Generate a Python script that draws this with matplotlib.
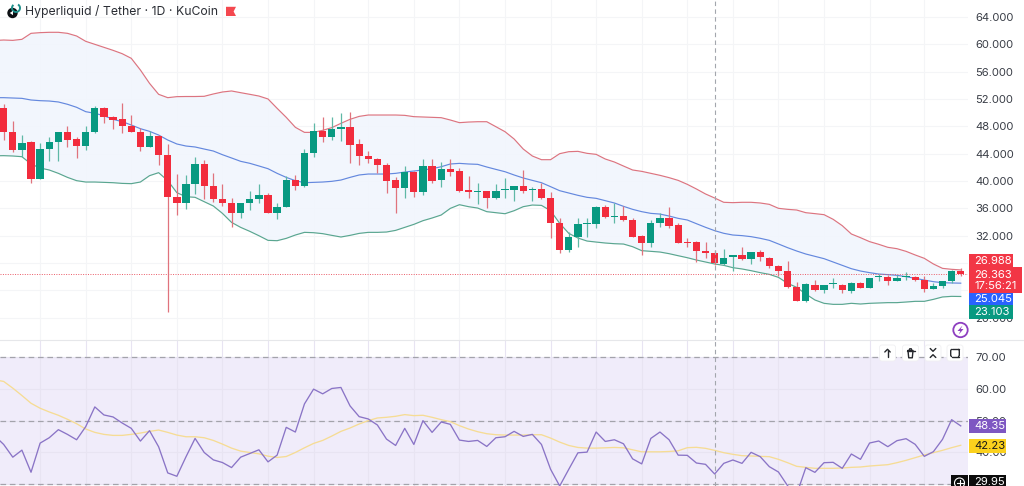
import numpy as np
import matplotlib
matplotlib.use("Agg")
import matplotlib.pyplot as plt
from matplotlib.patches import Rectangle, Polygon, Circle, FancyBboxPatch, Arc

plt.rcParams['font.family'] = ['Inter', 'DejaVu Sans']

TITLE = "Hyperliquid / Tether · 1D · KuCoin"

OPEN = [50.74,47.13,44.55,45.67,40.35,44.74,45.67,47.13,46.16,45.13,
        47.13,50.74,49.33,49.09,48.06,47.13,44.98,46.60,43.86,37.67,
        36.74,39.57,42.45,39.33,37.42,36.74,35.38,36.84,37.37,37.91,
        35.32,36.15,40.15,39.28,44.16,47.38,46.50,47.62,47.96,45.38,
        43.67,43.23,42.40,40.15,38.98,41.37,38.45,42.15,40.11,41.77,
        41.42,38.64,38.40,38.49,37.47,38.64,38.64,39.28,38.74,38.79,
        37.52,33.86,29.86,31.81,33.71,33.71,36.15,34.74,34.89,34.30,
        31.96,30.93,33.81,34.59,33.52,31.13,31.03,29.76,29.52,27.86,
        28.83,29.18,28.64,29.62,28.79,27.61,26.78,24.49,22.49,24.83,
        24.00,24.88,24.83,23.95,25.13,24.39,25.91,26.00,25.37,25.91,
        26.00,25.47,24.25,24.59,25.37,26.83]
CLOSE = [47.13,44.55,45.57,40.30,44.74,45.67,47.13,46.06,45.13,47.13,
         50.74,49.33,48.99,48.06,47.23,44.98,46.60,43.86,37.67,36.74,
         39.57,42.45,39.33,37.37,36.74,35.38,36.84,37.37,37.91,35.32,
         36.25,40.15,39.28,44.16,47.28,46.50,47.62,47.96,45.28,43.62,
         43.23,42.40,40.06,38.94,41.37,38.45,42.20,40.01,41.72,41.37,
         38.59,38.35,38.49,37.47,38.49,38.74,39.28,38.59,38.84,37.47,
         33.81,29.91,31.81,33.71,33.81,36.20,34.69,34.89,34.30,31.86,
         30.93,33.81,34.59,33.42,30.98,30.98,29.76,29.52,27.96,28.79,
         29.13,28.54,29.57,28.83,27.52,26.83,24.54,22.49,24.88,24.00,
         24.83,24.98,24.00,25.13,24.39,25.76,26.00,25.37,25.81,26.00,
         25.47,24.20,24.64,25.37,26.78,26.36]
HIGH = [51.23,48.79,46.74,45.91,45.52,46.50,47.23,48.06,46.40,48.06,
        51.04,50.79,49.52,51.38,49.67,47.72,47.28,46.74,45.38,40.98,
        40.89,43.57,43.08,41.13,39.52,37.47,36.84,38.59,39.57,38.30,
        36.74,40.74,40.84,44.64,48.55,49.33,49.33,49.91,50.06,46.11,
        44.45,43.42,42.59,40.64,42.20,41.47,43.28,43.18,42.79,43.18,
        41.86,40.74,39.76,38.54,39.57,40.40,39.28,41.62,39.08,39.76,
        38.45,34.54,32.59,34.59,34.54,36.30,36.49,36.84,36.40,34.54,
        32.05,34.30,35.37,36.15,33.91,31.71,31.27,31.13,29.91,30.01,
        29.13,30.30,29.66,29.91,28.93,27.71,28.35,25.27,25.03,25.52,
        24.83,25.76,24.98,25.22,25.22,25.86,26.39,26.25,26.25,26.69,
        26.15,26.10,25.03,25.37,26.98,27.32]
LOW = [46.01,44.30,43.57,39.67,40.35,42.98,42.89,44.94,43.42,44.55,
       46.99,48.45,47.62,47.08,47.13,44.45,44.94,42.35,20.88,35.03,
       35.91,38.11,37.37,36.98,36.35,33.32,34.59,35.76,36.74,35.27,
       34.44,36.15,38.69,39.08,43.57,45.77,46.01,45.86,42.69,42.30,
       42.69,41.13,38.20,35.37,37.47,37.62,38.01,39.67,39.18,40.74,
       38.45,37.57,36.64,36.01,37.42,37.47,37.13,38.30,37.13,37.32,
       31.71,29.42,29.66,30.40,31.86,33.08,34.54,33.81,34.10,31.76,
       29.23,30.40,33.32,33.18,30.88,30.40,28.20,28.69,27.71,27.71,
       26.88,28.44,27.86,28.35,27.22,26.10,24.30,22.49,22.30,23.91,
       23.56,24.39,23.66,23.66,24.30,24.39,25.42,24.78,25.37,25.52,
       25.37,23.81,24.25,24.39,25.03,26.15]

# Bollinger bands and RSI start one day before the first visible candle
UPPER = [60.58,60.65,60.60,60.75,61.63,61.73,61.78,61.78,61.63,61.24,60.46,
         60.02,59.58,59.14,58.65,57.97,56.26,54.31,52.70,52.21,52.36,
         52.38,52.38,52.41,52.75,53.04,53.19,52.94,52.70,52.45,52.02,
         50.65,49.33,47.87,47.13,47.13,47.43,47.82,48.45,
         49.04,49.47,49.67,49.67,49.67,49.67,49.62,49.43,49.38,49.33,
         49.28,48.94,48.55,48.64,48.69,48.69,47.96,47.23,46.16,44.69,
         43.67,43.13,43.13,44.01,44.30,44.35,44.06,43.91,43.23,42.79,
         42.20,41.62,41.42,41.13,40.84,40.50,40.10,
         39.52,38.84,38.11,37.52,36.89,36.84,36.89,36.89,36.79,36.59,
         36.01,35.86,35.76,35.37,35.23,35.08,34.40,33.47,32.25,31.71,
         31.13,30.74,30.30,30.10,29.71,29.18,28.69,27.86,27.22,27.08,26.99]
BASIS = [52.21,52.21,52.16,52.11,51.87,51.77,51.72,51.58,51.24,50.80,50.16,
         49.92,49.57,49.04,48.70,48.21,47.67,47.28,46.74,46.01,45.43,
         45.13,44.99,44.69,44.40,43.86,43.38,42.89,42.60,42.21,41.81,
         41.13,40.54,40.06,39.76,39.81,39.86,39.96,40.15,
         40.54,40.89,41.03,41.03,41.03,41.13,41.32,41.47,41.62,41.81,
         42.10,42.50,42.59,42.50,42.45,42.06,41.71,41.37,40.89,40.45,
         40.10,39.76,39.18,38.59,38.25,37.91,37.62,37.47,37.13,36.79,
         36.30,35.86,35.52,35.27,35.17,34.88,34.54,
         34.30,33.76,33.23,32.74,32.35,32.10,32.01,31.86,31.62,31.32,
         30.79,30.25,29.76,29.32,28.98,28.64,28.15,27.66,27.17,26.83,
         26.59,26.39,26.30,26.20,26.00,25.76,25.51,25.27,25.12,25.08,25.05]
LOWER = [43.70,43.72,43.67,43.57,42.50,41.91,41.62,41.13,40.54,40.06,39.86,
         39.86,39.81,39.76,39.66,39.62,39.86,40.79,41.23,40.06,38.30,
         37.71,37.62,36.98,36.35,35.27,33.95,33.22,32.64,32.00,31.32,
         31.27,31.61,32.10,32.49,32.44,32.30,32.05,31.81,
         32.05,32.34,32.49,32.49,32.54,32.78,33.22,33.66,34.20,34.59,
         35.03,36.00,36.54,36.25,36.05,35.52,35.37,35.22,35.66,36.25,
         36.49,36.44,35.66,33.81,32.34,31.66,31.22,31.07,30.93,30.83,
         30.78,30.39,29.81,29.71,29.61,29.37,29.07,
         28.78,28.44,28.15,27.86,27.66,27.32,27.13,26.88,26.59,26.34,
         25.90,25.03,24.44,23.46,22.59,22.10,21.95,21.95,22.10,22.00,
         22.10,22.15,22.20,22.20,22.29,22.39,22.39,22.68,23.03,23.12,23.10]
RSI = [45.24,42.49,38.47,40.69,33.71,42.91,44.61,47.15,45.66,43.97,
       48.10,54.34,51.80,51.17,49.26,47.57,43.55,46.83,41.75,33.50,
       32.44,38.58,44.40,39.95,37.62,36.78,35.19,38.47,39.63,40.80,
       36.99,39.11,47.89,46.41,55.29,59.95,58.47,60.16,60.48,
       54.66,51.27,50.53,48.63,44.18,42.17,47.57,42.49,50.00,46.30,
       49.58,48.84,43.87,43.44,43.76,41.86,44.61,44.92,46.62,45.03,
       45.67,42.49,34.66,29.37,34.66,39.85,40.06,46.41,43.44,43.97,
       42.70,37.94,36.35,44.40,46.41,43.97,39.11,
       39.05,36.63,36.21,33.16,36.52,37.58,36.52,40.00,38.63,35.47,
       33.79,29.47,26.73,35.15,33.68,36.73,36.84,34.95,39.47,37.79,
       42.94,43.58,41.79,43.68,44.31,42.52,38.73,40.21,44.10,50.31,48.35]
RSI_MA = [62.91,62.38,60.27,57.94,55.50,53.92,52.75,51.70,50.43,49.05,
          47.36,46.30,45.67,45.35,45.35,45.67,46.09,46.62,47.04,46.30,
          45.45,44.92,44.92,44.61,43.76,42.60,41.33,40.38,39.95,39.53,
          38.79,38.37,38.68,39.95,41.43,42.81,43.76,45.14,46.62,
          47.68,48.95,50.00,50.85,51.06,51.38,51.91,51.59,51.70,51.06,
          50.32,49.69,48.42,47.36,46.51,45.88,45.56,45.45,45.45,45.45,
          45.56,45.56,44.50,43.23,42.17,41.54,41.33,41.33,41.43,41.54,
          41.43,40.80,40.16,40.16,40.16,40.27,40.48,
          41.47,41.58,41.26,40.63,39.89,39.37,38.94,38.84,38.73,38.63,
          37.79,36.73,35.58,35.26,34.95,34.95,34.95,35.05,35.26,35.37,
          35.68,35.89,36.10,36.73,37.47,38.31,39.16,39.89,40.63,41.47,42.23]

PRICE_TICKS = [64,60,56,52,48,44,40,36,32,28,24,20]
RSI_TICKS = [70,60,50,40,30]
TIME_GRID = [4,9,14,19,24,29,34,40,45,50,55,60,65,70,75,80,85,90,95,101]
CROSSHAIR_DAY = 78
LAST_PRICE = 26.363

UP, DOWN = '#089981', '#f22c3d'
GRID = '#f4f5f7'
W, H = 1024, 486
fig = plt.figure(figsize=(W/100, H/100), dpi=100, facecolor='white')

def axes_px(x0, y0, x1, y1, **kw):
    return fig.add_axes([x0/W, 1-y1/H, (x1-x0)/W, (y1-y0)/H], **kw)

PX_PER_DAY = 9.115
X0 = 3.67
def xlim_for(width):
    return (-X0/PX_PER_DAY, (width-X0)/PX_PER_DAY)

ax = axes_px(0, 0, 968, 340)
rs = axes_px(0, 341, 968, 486)
for a in (ax, rs):
    a.set_xlim(*xlim_for(968))
    a.set_xticks(TIME_GRID)
    a.tick_params(axis='x', length=0, labelbottom=False)
    a.tick_params(axis='y', length=0, pad=5.2, labelsize=8.1, labelcolor='#3a3e47',
                  right=False, left=False, labelright=True, labelleft=False)
    a.yaxis.set_ticks_position('right')
    for s in a.spines.values():
        s.set_visible(False)
    a.grid(True, color=GRID, lw=0.8, zorder=0)
    a.set_axisbelow(True)

# price pane
ax.set_ylim(16.73, 66.51)
ax.set_yticks(PRICE_TICKS)
ax.set_yticklabels([f"{t:.3f}" for t in PRICE_TICKS])
days = np.arange(len(OPEN))
band_days = np.arange(-1, len(OPEN))
ax.fill_between(band_days, LOWER, UPPER, color='#f1f6fd', alpha=0.9, lw=0, zorder=1)
ax.plot(band_days, UPPER, color='#dc7480', lw=0.85, zorder=2)
ax.plot(band_days, BASIS, color='#6488de', lw=0.85, zorder=2)
ax.plot(band_days, LOWER, color='#5aa690', lw=0.85, zorder=2)
ax.axhline(LAST_PRICE, color='#ea5a66', lw=0.7, ls=(0, (1, 1.5)), zorder=2)
colors = [UP if c >= o else DOWN for o, c in zip(OPEN, CLOSE)]
wick_colors = ['#5fb8a6' if c >= o else '#e0737d' for o, c in zip(OPEN, CLOSE)]
ax.vlines(days, LOW, HIGH, colors=wick_colors, lw=0.9, zorder=3)
bottoms = np.minimum(OPEN, CLOSE)
heights = np.maximum(np.abs(np.array(CLOSE)-np.array(OPEN)), 0.14)
ax.bar(days, heights, bottom=bottoms, width=0.8, color=colors, lw=0, zorder=4)
ax.axvline(CROSSHAIR_DAY, color='#a3a6ad', lw=0.8, ls=(0, (4, 3)), zorder=5)

# RSI pane
rs.set_ylim(29.37, 75.15)
rs.set_yticks(RSI_TICKS)
rs.set_yticklabels([f"{t:.2f}" for t in RSI_TICKS])
rs.axhspan(30, 70, color='#f0ecfa', lw=0, zorder=0.5)
rs.grid(True, color='#e8e4f2', lw=0.8, zorder=1)
for lvl in (70, 50, 30):
    rs.axhline(lvl, color='#a3a3ab', lw=0.9, ls=(0, (4.5, 3)), zorder=1.5)
rs.plot(band_days, RSI_MA, color='#f6dc94', lw=0.95, zorder=2)
rs.plot(band_days, RSI, color='#8a74c6', lw=0.95, zorder=3)
rs.axvline(CROSSHAIR_DAY, color='#a3a6ad', lw=0.8, ls=(0, (4, 3)), zorder=5)

# overlay in pixel space for badges, icons and the title
ov = fig.add_axes([0, 0, 1, 1], zorder=10, facecolor='none')
ov.set_xlim(0, W); ov.set_ylim(H, 0); ov.axis('off')
ov.plot([0, W], [340.3, 340.3], color='#e6e7ea', lw=0.8)

def badge(x0, y0, x1, y1, color, text, tc='white', tx=974.5, ty=None, **kw):
    ov.add_patch(Rectangle((x0, y0), x1-x0, y1-y0, color=color, lw=0))
    ov.text(tx, (y0+y1)/2 if ty is None else ty, text, color=tc, fontsize=8.1,
            va='center', ha='left', **kw)

badge(969, 254, 1013, 267.5, '#f23645', '26.988')
ov.add_patch(Rectangle((969, 267), 53, 25.5, color='#f23645', lw=0))
ov.text(974.5, 274.5, '26.363', color='white', fontsize=8.1, va='center')
ov.text(974.5, 285.5, '17:56:21', color='white', fontsize=8.1, va='center')
badge(969, 292.5, 1013, 305, '#2962ff', '25.045')
badge(969, 305, 1013, 319, '#089981', '23.103')
badge(969, 419, 1006, 432.5, '#7e57c2', '48.35')
badge(969, 438.7, 1006, 452.7, '#fbd11d', '42.23', tc='#1a1a1a')
badge(969, 475, 1006, 486, '#0b0b0b', '29.95', ty=482)
ov.add_patch(Rectangle((951, 475), 16.5, 11, color='#0b0b0b', lw=0))
ov.add_patch(Circle((959.5, 483), 5, fc='none', ec='white', lw=0.8))
ov.plot([956.5, 962.5], [483, 483], color='white', lw=0.8)
ov.plot([959.5, 959.5], [480, 486], color='white', lw=0.8)

# bolt button
ov.add_patch(Circle((960.5, 330), 7.2, fc='white', ec='#8e3fc0', lw=1.3))
ov.add_patch(Polygon([(962.5, 325.5), (957.5, 331), (960.3, 331), (958.8, 334.5),
                      (963.5, 329), (960.7, 329)], color='#8e3fc0', lw=0))

# pane toolbar
for cx in (887.5, 910.5, 933, 955):
    ov.add_patch(FancyBboxPatch((cx-8, 345), 16, 16, boxstyle='round,pad=0,rounding_size=2.5',
                                fc='white', ec='#f0f0f2', lw=0.6))
ic = dict(color='#26282d', lw=1.0, solid_capstyle='round')
ov.plot([887.5, 887.5], [349.5, 356.5], **ic)
ov.plot([884.8, 887.5, 890.2], [352, 349.3, 352], **ic)
ov.plot([906.5, 914.5], [350.5, 350.5], **ic)
ov.plot([908, 908.7, 912.3, 913, 908], [350.5, 357.8, 357.8, 350.5, 350.5], **ic)
ov.plot([909.2, 909.7, 911.3, 911.8], [350.5, 348.8, 348.8, 350.5], **ic)
ov.plot([930.2, 933, 935.8], [348.5, 351.3, 348.5], **ic)
ov.plot([930.2, 933, 935.8], [357.5, 354.7, 357.5], **ic)
ov.plot([951.5, 950.7, 950.7, 951.5], [349.4, 350.5, 355.5, 356.6], **ic)
ov.plot([958.5, 959.3, 959.3, 958.5], [349.4, 350.5, 355.5, 356.6], **ic)
ov.plot([951.5, 958.5], [349.4, 349.4], **ic)
ov.plot([951.5, 958.5], [356.6, 356.6], **ic)

# title row
ov.text(25, 11.5, TITLE, color='#2b2e35', fontsize=8.8, va='center', ha='left')
ov.add_patch(Circle((12.5, 13), 5.2, color='#0d1014', lw=0))
ov.add_patch(Arc((16, 8), 8, 8, theta1=-60, theta2=230, color='#1f8f8a', lw=1.4))
ov.add_patch(Polygon([(9.8, 13), (13, 10.8), (13, 15.2)], color='white', lw=0))
ov.add_patch(Polygon([(226, 6.8), (236, 6.8), (233.6, 11.5), (236, 16), (226, 16)],
                     color='#f4484f', lw=0))

fig.savefig('out.png', dpi=100, facecolor='white')
